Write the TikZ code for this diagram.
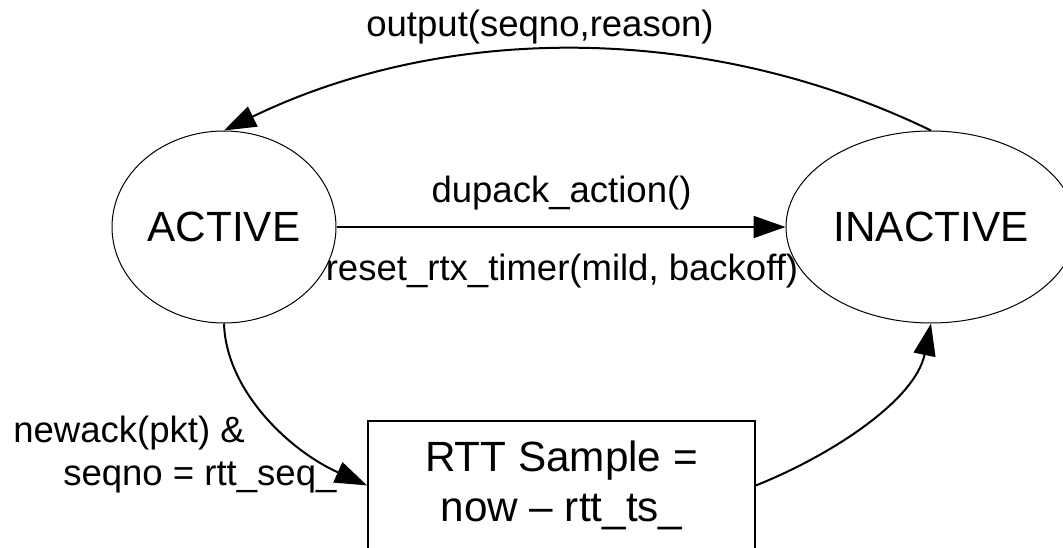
\documentclass[tikz,border=0pt]{standalone}
\usepackage{fontspec}
\setmainfont{Liberation Sans}
\usetikzlibrary{shapes.geometric,arrows.meta}
\begin{document}
\begin{tikzpicture}[x=0.75pt,y=-0.75pt,
  state/.style={ellipse,draw,line width=0.75pt,inner sep=0pt,minimum height=144pt,font=\fontsize{31.7}{38}\selectfont},
  procbox/.style={rectangle,draw,line width=1.5pt,inner sep=0pt,align=center,font=\fontsize{31.7}{37.5}\selectfont},
  trans/.style={line width=1.5pt,-{Triangle[length=24pt,width=16.5pt]}},
  lbl/.style={inner sep=0pt,font=\fontsize{27.4}{33}\selectfont}]
\useasboundingbox (0,0) rectangle (1063,548);
\node[state,minimum width=168pt] (active) at (224,227) {ACTIVE};
\node[state,minimum width=217.5pt] (inactive) at (931,227) {INACTIVE};
\node[procbox,minimum width=290.25pt,minimum height=96.6pt] (box) at (561.5,485.4) {RTT Sample =\\now – rtt\_ts\_};
\draw[trans] (inactive.north) .. controls +(-223,-108) and +(223,-108) .. (active.north);
\draw[trans] (active.east) -- (inactive.west);
\draw[trans] (active.south) .. controls +(2,67) and +(-78,-35) .. (box.west);
\draw[trans] (box.east) .. controls +(75,-30) and +(-16,77) .. (inactive.south);
\node[lbl,anchor=base] (lout) at (540,37) {output(seqno,reason)};
\node[lbl,anchor=base] (ldup) at (561.5,203) {dupack\_action()};
\node[lbl,anchor=base] (lrst) at (562,281) {reset\_rtx\_timer(mild, backoff)};
\node[lbl,anchor=base west] (lnew) at (13,442) {newack(pkt) \&};
\node[lbl,anchor=base west] (lseq) at (63,485) {seqno = rtt\_seq\_};
\end{tikzpicture}
\end{document}
